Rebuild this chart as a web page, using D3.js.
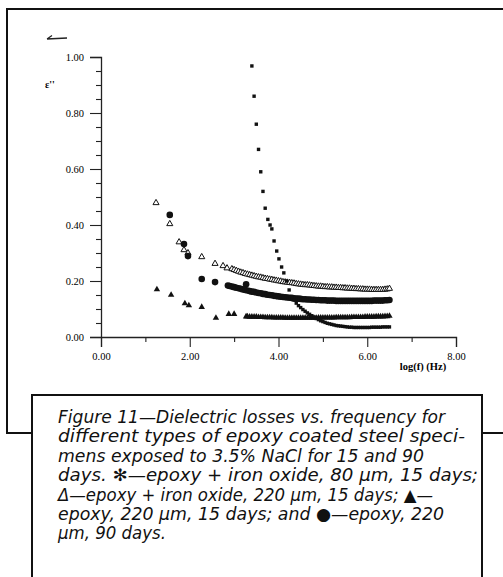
<!DOCTYPE html>
<meta charset="utf-8">
<script src="https://d3js.org/d3.v7.min.js"></script>
<style>
  body { margin: 0; background: #fff; }
</style>
<div id="my_dataviz"></div>
<script>

  // ---- data (log f in Hz, dielectric loss e'') ----
  // epoxy + iron oxide, 80 um, 15 days (asterisk, drawn as small dots)
  var asterX = [3.40, 3.45, 3.50, 3.55, 3.60, 3.65, 3.70, 3.76, 3.81, 3.85, 3.90, 3.96, 4.01, 4.07, 4.12, 4.18, 4.24,
    4.30, 4.35, 4.40, 4.45, 4.50, 4.55, 4.60, 4.65, 4.70, 4.75, 4.80, 4.85, 4.90, 4.95, 5.00, 5.05, 5.10, 5.15, 5.20, 5.25,
    5.30, 5.35, 5.40, 5.45, 5.50, 5.55, 5.60, 5.65, 5.70, 5.75, 5.80, 5.85, 5.90, 5.95, 6.00, 6.05, 6.10, 6.15, 6.20, 6.25,
    6.30, 6.35, 6.40, 6.45, 6.50];
  var asterY = [0.968, 0.86, 0.76, 0.67, 0.59, 0.52, 0.46, 0.42, 0.40, 0.386, 0.343, 0.307, 0.279, 0.250, 0.229, 0.200, 0.168,
    0.145, 0.132, 0.121, 0.112, 0.105, 0.098, 0.092, 0.086, 0.081, 0.076, 0.071, 0.066, 0.062, 0.058, 0.055, 0.052, 0.049, 0.047, 0.045, 0.043,
    0.041, 0.040, 0.039, 0.038, 0.037, 0.036, 0.035, 0.035, 0.034, 0.034, 0.034, 0.034, 0.034, 0.034, 0.034, 0.034, 0.035, 0.035, 0.035, 0.035,
    0.035, 0.036, 0.036, 0.036, 0.036];

  // epoxy + iron oxide, 220 um, 15 days (open triangle)
  var openTriX = [1.24, 1.55, 1.76, 1.87, 1.96, 2.27, 2.57, 2.75, 2.84,
    2.95, 3.00, 3.05, 3.10, 3.15, 3.20, 3.25, 3.30, 3.35, 3.40, 3.45, 3.50, 3.55, 3.60, 3.65, 3.70, 3.75, 3.80, 3.85, 3.90,
    3.95, 4.00, 4.05, 4.10, 4.15, 4.20, 4.25, 4.30, 4.35, 4.40, 4.45, 4.50, 4.55, 4.60, 4.65, 4.70, 4.75, 4.80, 4.85, 4.90,
    4.95, 5.00, 5.05, 5.10, 5.15, 5.20, 5.25, 5.30, 5.35, 5.40, 5.45, 5.50, 5.55, 5.60, 5.65, 5.70, 5.75, 5.80, 5.85, 5.90,
    5.95, 6.00, 6.05, 6.10, 6.15, 6.20, 6.25, 6.30, 6.35, 6.40, 6.45, 6.50];
  var openTriY = [0.479, 0.404, 0.339, 0.311, 0.300, 0.286, 0.262, 0.254, 0.246,
    0.243, 0.240, 0.237, 0.234, 0.231, 0.229, 0.226, 0.224, 0.222, 0.220, 0.218, 0.216, 0.214, 0.213, 0.211, 0.209, 0.208, 0.206, 0.205, 0.203,
    0.202, 0.200, 0.199, 0.197, 0.196, 0.195, 0.194, 0.193, 0.192, 0.190, 0.189, 0.188, 0.187, 0.186, 0.186, 0.185, 0.184, 0.183, 0.182, 0.181,
    0.181, 0.180, 0.179, 0.179, 0.178, 0.178, 0.177, 0.177, 0.176, 0.176, 0.175, 0.175, 0.174, 0.174, 0.173, 0.173, 0.172, 0.172, 0.171, 0.171,
    0.170, 0.170, 0.170, 0.169, 0.169, 0.169, 0.169, 0.169, 0.169, 0.170, 0.171, 0.173];

  // epoxy, 220 um, 15 days (filled triangle)
  var fillTriX = [1.26, 1.58, 1.89, 1.98, 2.27, 2.59, 2.88, 3.00,
    3.27, 3.30, 3.35, 3.40, 3.45, 3.50, 3.55, 3.60, 3.65, 3.70, 3.75, 3.80, 3.85, 3.90,
    3.95, 4.00, 4.05, 4.10, 4.15, 4.20, 4.25, 4.30, 4.35, 4.40, 4.45, 4.50, 4.55, 4.60, 4.65, 4.70, 4.75, 4.80, 4.85, 4.90,
    4.95, 5.00, 5.05, 5.10, 5.15, 5.20, 5.25, 5.30, 5.35, 5.40, 5.45, 5.50, 5.55, 5.60, 5.65, 5.70, 5.75, 5.80, 5.85, 5.90,
    5.95, 6.00, 6.05, 6.10, 6.15, 6.20, 6.25, 6.30, 6.35, 6.40, 6.45, 6.50];
  var fillTriY = [0.170, 0.150, 0.120, 0.113, 0.107, 0.068, 0.082, 0.082,
    0.073, 0.073, 0.072, 0.072, 0.072, 0.072, 0.071, 0.071, 0.071, 0.070, 0.070, 0.070, 0.070, 0.069,
    0.069, 0.069, 0.069, 0.069, 0.068, 0.068, 0.068, 0.068, 0.068, 0.068, 0.068, 0.068, 0.068, 0.068, 0.068, 0.068, 0.068, 0.068, 0.068, 0.069,
    0.069, 0.069, 0.069, 0.069, 0.069, 0.069, 0.069, 0.070, 0.070, 0.070, 0.070, 0.070, 0.070, 0.070, 0.071, 0.071, 0.071, 0.071, 0.071, 0.071,
    0.072, 0.072, 0.072, 0.072, 0.072, 0.073, 0.073, 0.073, 0.073, 0.074, 0.074, 0.075];

  // epoxy, 220 um, 90 days (filled circle)
  var circX = [1.55, 1.87, 1.96, 2.27, 2.57, 3.27,
    2.86, 2.90, 2.95, 3.00, 3.05, 3.10, 3.15, 3.20, 3.25, 3.30, 3.35, 3.40, 3.45, 3.50, 3.55, 3.60, 3.65, 3.70, 3.75, 3.80, 3.85, 3.90,
    3.95, 4.00, 4.05, 4.10, 4.15, 4.20, 4.25, 4.30, 4.35, 4.40, 4.45, 4.50, 4.55, 4.60, 4.65, 4.70, 4.75, 4.80, 4.85, 4.90,
    4.95, 5.00, 5.05, 5.10, 5.15, 5.20, 5.25, 5.30, 5.35, 5.40, 5.45, 5.50, 5.55, 5.60, 5.65, 5.70, 5.75, 5.80, 5.85, 5.90,
    5.95, 6.00, 6.05, 6.10, 6.15, 6.20, 6.25, 6.30, 6.35, 6.40, 6.45, 6.50];
  var circY = [0.436, 0.332, 0.289, 0.207, 0.196, 0.188,
    0.184, 0.182, 0.180, 0.178, 0.176, 0.174, 0.172, 0.170, 0.168, 0.166, 0.164, 0.162, 0.161, 0.159, 0.157, 0.156, 0.154, 0.153, 0.151, 0.150, 0.149, 0.147,
    0.146, 0.145, 0.144, 0.143, 0.142, 0.141, 0.140, 0.139, 0.138, 0.137, 0.137, 0.136, 0.135, 0.135, 0.134, 0.134, 0.133, 0.133, 0.132, 0.132,
    0.131, 0.131, 0.131, 0.130, 0.130, 0.130, 0.130, 0.129, 0.129, 0.129, 0.129, 0.129, 0.129, 0.129, 0.129, 0.129, 0.129, 0.129, 0.129, 0.129,
    0.129, 0.129, 0.129, 0.129, 0.130, 0.130, 0.130, 0.130, 0.130, 0.131, 0.131, 0.132];

  var xMajor = [0, 2, 4, 6, 8];
  var xMinor = [1, 3, 5, 7];
  var yMajor = [0, 0.2, 0.4, 0.6, 0.8, 1.0];
  var yMinor = [0.05, 0.1, 0.15, 0.25, 0.3, 0.35, 0.45, 0.5, 0.55, 0.65, 0.7, 0.75, 0.85, 0.9, 0.95];

  var captionLines = [
    "Figure 11\u2014Dielectric losses vs. frequency for",
    "different types of epoxy coated steel speci-",
    "mens exposed to 3.5% NaCl for 15 and 90",
    "days. \u273B\u2014epoxy + iron oxide, 80 \u00B5m, 15 days;",
    "\u0394\u2014epoxy + iron oxide, 220 \u00B5m, 15 days; \u25B2\u2014",
    "epoxy, 220 \u00B5m, 15 days; and \u25CF\u2014epoxy, 220",
    "\u00B5m, 90 days."
  ];
  var captionWidths = [387, 407, 366, 420, 375, 386, 108];

  var W = 503, H = 577;

  var svg = d3.select("#my_dataviz")
    .append("svg")
    .attr("width", W)
    .attr("height", H);

  svg.append("rect")
    .attr("width", W).attr("height", H)
    .style("fill", "#fff");

  // outer frame around the figure (runs off the right edge)
  svg.append("path")
    .attr("d", "M503,9H7V433H32M482,433H503")
    .attr("fill", "none")
    .attr("stroke", "#111")
    .attr("stroke-width", 2);

  // scales
  var x = d3.scaleLinear().domain([0, 8]).range([101, 456]);
  var y = d3.scaleLinear().domain([0, 1]).range([337, 57]);

  // Y axis: major and minor ticks
  svg.append("g")
    .attr("transform", "translate(" + x(0) + ",0)")
    .call(d3.axisLeft(y).tickValues(yMajor).tickSize(11).tickPadding(6).tickFormat(d3.format(".2f")));
  svg.append("g")
    .attr("transform", "translate(" + x(0) + ",0)")
    .call(d3.axisLeft(y).tickValues(yMinor).tickSize(5).tickFormat(""))
    .select(".domain").remove();

  // X axis
  svg.append("g")
    .attr("transform", "translate(0," + y(0) + ")")
    .call(d3.axisBottom(x).tickValues(xMajor).tickSize(10).tickPadding(6).tickFormat(d3.format(".2f")));
  svg.append("g")
    .attr("transform", "translate(0," + y(0) + ")")
    .call(d3.axisBottom(x).tickValues(xMinor).tickSize(5).tickFormat(""))
    .select(".domain").remove();

  // Customization
  svg.selectAll(".domain").attr("stroke", "#222").attr("stroke-width", 1.3);
  svg.selectAll(".tick line").attr("stroke", "#222").attr("stroke-width", 1.1);
  svg.selectAll(".tick text")
    .style("font-family", "'Liberation Serif', serif")
    .style("font-size", "10.5px")
    .style("fill", "#000");

  // axis labels
  svg.append("text")
    .attr("x", 45).attr("y", 88)
    .style("font-family", "'Liberation Serif', serif")
    .style("font-size", "10px")
    .style("font-weight", "bold")
    .text("\u03B5''");

  svg.append("text")
    .attr("x", 423).attr("y", 370)
    .attr("text-anchor", "middle")
    .style("font-family", "'Liberation Serif', serif")
    .style("font-size", "10.5px")
    .style("font-weight", "bold")
    .text("log(f) (Hz)");

  // little arrow mark at top left
  svg.append("path")
    .attr("d", "M47,39L67,38M47,39L52,35.5")
    .attr("fill", "none")
    .attr("stroke", "#222")
    .attr("stroke-width", 1.3);

  // Add dots
  svg.append("g")
    .selectAll("path")
    .data(d3.zip(openTriX, openTriY))
    .enter()
    .append("path")
    .attr("transform", function (d) { return "translate(" + x(d[0]) + "," + y(d[1]) + ")"; })
    .attr("d", d3.symbol().type(d3.symbolTriangle).size(16)())
    .style("fill", "#fff")
    .style("stroke", "#111")
    .style("stroke-width", 1);

  svg.append("g")
    .selectAll("path")
    .data(d3.zip(fillTriX, fillTriY))
    .enter()
    .append("path")
    .attr("transform", function (d) { return "translate(" + x(d[0]) + "," + y(d[1]) + ")"; })
    .attr("d", d3.symbol().type(d3.symbolTriangle).size(18)())
    .style("fill", "#111");

  svg.append("g")
    .selectAll("circle")
    .data(d3.zip(circX, circY))
    .enter()
    .append("circle")
    .attr("cx", function (d) { return x(d[0]); })
    .attr("cy", function (d) { return y(d[1]); })
    .attr("r", 3.3)
    .style("fill", "#111");

  svg.append("g")
    .selectAll("rect")
    .data(d3.zip(asterX, asterY))
    .enter()
    .append("rect")
    .attr("x", function (d) { return x(d[0]) - 1.7; })
    .attr("y", function (d) { return y(d[1]) - 1.7; })
    .attr("width", 3.4)
    .attr("height", 3.4)
    .style("fill", "#111");

  // caption box
  svg.append("path")
    .attr("d", "M32,580V395H482V580")
    .attr("fill", "#fff")
    .attr("stroke", "#111")
    .attr("stroke-width", 2);

  svg.append("g")
    .selectAll("text")
    .data(captionLines)
    .enter()
    .append("text")
    .attr("x", 58)
    .attr("y", function (d, i) { return 423 + i * 19.4; })
    .attr("textLength", function (d, i) { return captionWidths[i]; })
    .attr("lengthAdjust", "spacingAndGlyphs")
    .style("font-family", "'DejaVu Sans', sans-serif")
    .style("font-style", "italic")
    .style("font-size", "17px")
    .style("fill", "#111")
    .text(function (d) { return d; });

</script>
